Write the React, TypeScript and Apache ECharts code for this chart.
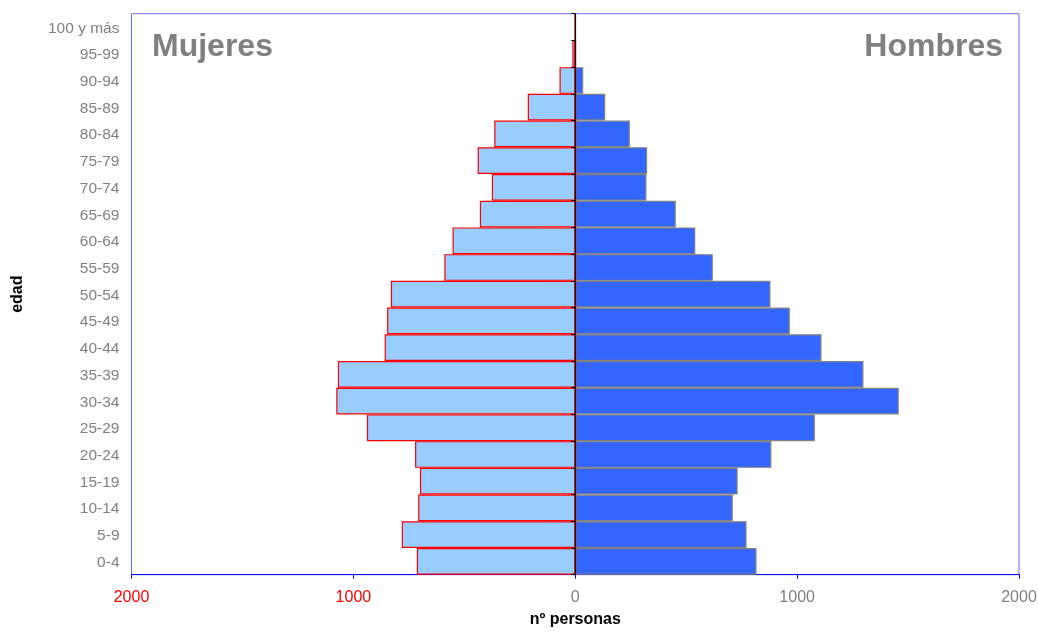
import React, { useEffect, useRef } from "react";
import * as echarts from "echarts";

const categories = [
  "0-4", "5-9", "10-14", "15-19", "20-24", "25-29", "30-34", "35-39", "40-44", "45-49",
  "50-54", "55-59", "60-64", "65-69", "70-74", "75-79", "80-84", "85-89", "90-94", "95-99", "100 y más",
];
const mujeres = [714, 782, 708, 700, 722, 939, 1077, 1070, 859, 848, 831, 590, 553, 430, 376, 440, 365, 214, 71, 13, 3];
const hombres = [817, 772, 710, 732, 884, 1080, 1458, 1299, 1110, 967, 880, 620, 541, 453, 321, 324, 246, 135, 36, 3, 1];
const xTicks = [-2000, -1000, 0, 1000, 2000];

export default function App() {
  const ref = useRef<HTMLDivElement>(null);
  useEffect(() => {
    if (!ref.current) return;
    const chart = echarts.init(ref.current, null, { renderer: "svg" });
    const font = "'Liberation Sans', Arial, sans-serif";
    chart.setOption({
      animation: false,
      textStyle: { fontFamily: font },
      grid: {
        left: 131.5,
        right: 19,
        top: 13.7,
        bottom: 57.3,
        show: true,
        borderColor: "#6a6af2",
        borderWidth: 1,
        containLabel: false,
        outerBoundsMode: "none",
      },
      xAxis: {
        type: "value",
        min: xTicks[0],
        max: xTicks[xTicks.length - 1],
        interval: 1000,
        name: "nº personas",
        nameLocation: "middle",
        nameGap: 36,
        nameTextStyle: { fontWeight: "bold", fontSize: 16, color: "#000", fontFamily: font },
        axisLine: { show: true, onZero: false, lineStyle: { color: "#0000ff", width: 1 } },
        axisTick: { show: true, length: 4, lineStyle: { color: "#0000ff" } },
        splitLine: { show: false },
        axisLabel: {
          fontSize: 16,
          margin: 14,
          fontFamily: font,
          formatter: (v: number) => String(Math.abs(v)),
          color: (v: any) => (Number(v) < 0 ? "#ff0000" : "#808080"),
        },
      },
      yAxis: [
        {
          type: "category",
          data: categories,
          position: "left",
          name: "edad",
          nameLocation: "middle",
          nameGap: 107,
          nameRotate: 90,
          nameTextStyle: { fontWeight: "bold", fontSize: 16, color: "#000", fontFamily: font },
          axisLine: { show: false, onZero: false },
          axisTick: { show: false },
          axisLabel: { fontSize: 15.5, color: "#808080", margin: 12, fontFamily: font },
          splitLine: { show: false },
        },
        {
          type: "category",
          data: categories,
          position: "left",
          z: 10,
          axisLine: { show: true, onZero: true, lineStyle: { color: "#000", width: 1 } },
          axisTick: { show: true, length: 4, lineStyle: { color: "#000" } },
          axisLabel: { show: false },
          splitLine: { show: false },
        },
      ],
      series: [
        {
          name: "Mujeres",
          type: "bar",
          yAxisIndex: 0,
          z: 1,
          data: mujeres.map((v) => -v),
          barWidth: "100%",
          barGap: "-100%",
          barCategoryGap: 0,
          itemStyle: { color: "#99ccff", borderColor: "#ff0000", borderWidth: 1.2 },
        },
        {
          name: "Hombres",
          type: "bar",
          yAxisIndex: 0,
          z: 2,
          data: hombres,
          barWidth: "100%",
          barGap: "-100%",
          barCategoryGap: 0,
          itemStyle: { color: "#3366ff", borderColor: "#808080", borderWidth: 1.2 },
          markLine: {
            silent: true,
            z: 20,
            symbol: "none",
            label: { show: false },
            lineStyle: { color: "#000000", width: 1.2, type: "solid" },
            data: [{ xAxis: 0 }],
          },
        },
      ],
      graphic: [
        {
          type: "text",
          left: 152,
          top: 29,
          style: { text: "Mujeres", fontSize: 32, fontWeight: "bold", fill: "#808080", fontFamily: font },
        },
        {
          type: "text",
          right: 35,
          top: 29,
          style: { text: "Hombres", fontSize: 32, fontWeight: "bold", fill: "#808080", fontFamily: font },
        },
      ],
    });
    return () => chart.dispose();
  }, []);
  return (
    <div
      ref={ref}
      style={{ position: "fixed", left: 0, top: 0, width: 1038, height: 632 }}
    />
  );
}
